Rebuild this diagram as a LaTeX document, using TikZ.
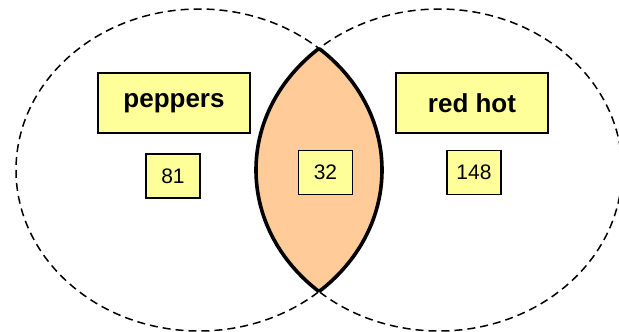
\documentclass[tikz,border=0pt]{standalone}
\usepackage{fontspec}
\setmainfont{Liberation Sans}
\definecolor{boxyellow}{HTML}{FFFF99}
\definecolor{lensfill}{HTML}{FFCC99}
\tikzstyle{setline}=[draw=black,line width=1.5pt,dash pattern=on 8pt off 5pt]
\tikzstyle{lensline}=[draw=black,line width=3.6pt]
\tikzstyle{setname}=[draw=black,fill=boxyellow,line width=1.8pt,inner sep=0pt,minimum width=152pt,minimum height=60pt,font=\bfseries\fontsize{26}{30}\selectfont]
\tikzstyle{count}=[draw=black,fill=boxyellow,line width=1.8pt,inner sep=0pt,minimum width=54pt,minimum height=44pt,font=\fontsize{21}{24}\selectfont]

\begin{document}
\begin{tikzpicture}[x=1pt,y=-1pt]
      \useasboundingbox (0,0) rectangle (619,332);

      \coordinate (L) at (199,170);
      \coordinate (R) at (439,170);

      % overlap of the two sets
      \begin{scope}
        \clip (L) ellipse [x radius=183,y radius=161];
        \fill[lensfill] (R) ellipse [x radius=183,y radius=161];
      \end{scope}

      \draw[setline] (L) ellipse [x radius=183,y radius=161];
      \draw[setline] (R) ellipse [x radius=183,y radius=161];

      \begin{scope}
        \clip (L) ellipse [x radius=183,y radius=161];
        \draw[lensline] (R) ellipse [x radius=183,y radius=161];
      \end{scope}
      \begin{scope}
        \clip (R) ellipse [x radius=183,y radius=161];
        \draw[lensline] (L) ellipse [x radius=183,y radius=161];
      \end{scope}

      \node[setname] (peppers) at (174,103) {peppers};
      \node[setname] (redhot) at (472,103) {red hot};

      \node[count] (onlyp) at (173,176) {81};
      \node[count] (both) at (325.5,172.5) {32};
      \node[count] (onlyr) at (474,172.5) {148};
\end{tikzpicture}
\end{document}
